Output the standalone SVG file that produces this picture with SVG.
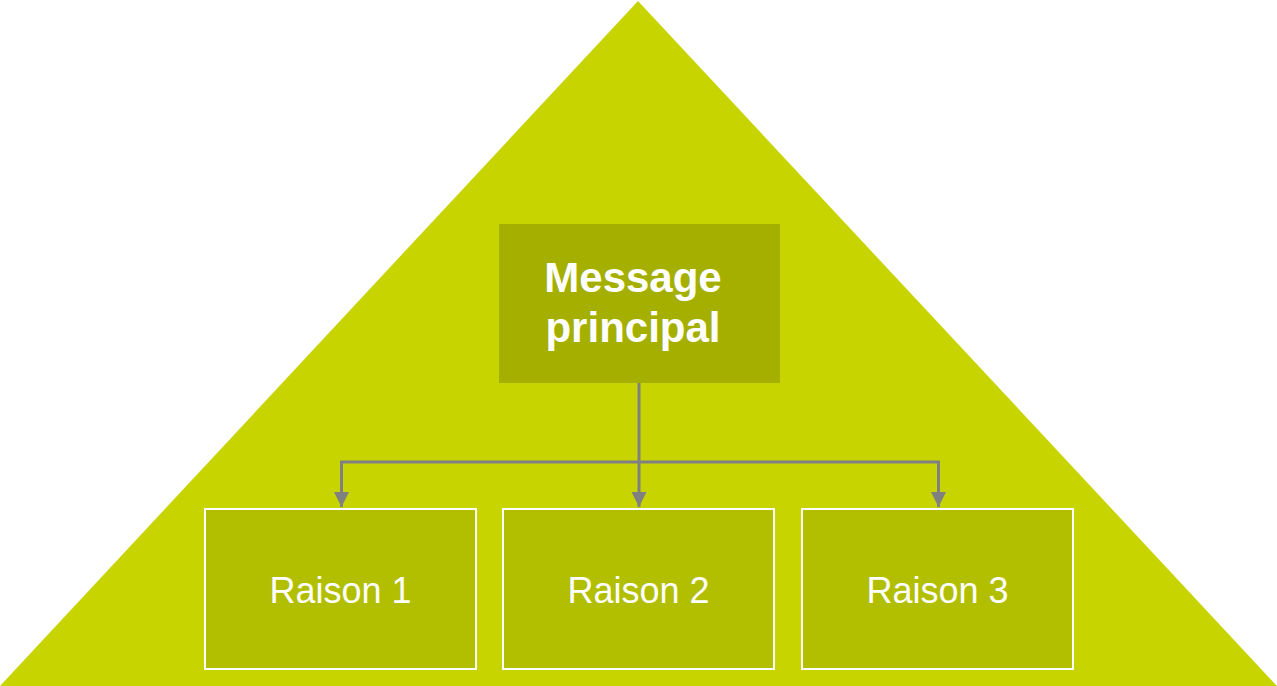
<svg xmlns="http://www.w3.org/2000/svg" width="1277" height="686" viewBox="0 0 1277 686">
<style>
.reason rect{fill:#B2BE00;stroke:#FFFFFF;stroke-width:2}
.reason text{font-family:"Liberation Sans",Arial,sans-serif;font-size:36px;fill:#FFFFFF;text-anchor:middle}
.main text{font-family:"Liberation Sans",Arial,sans-serif;font-size:42px;font-weight:bold;fill:#FFFFFF;text-anchor:middle}
.conn{fill:none;stroke:#808080;stroke-width:3}
</style>
<defs>
<marker id="arr" markerWidth="5" markerHeight="5" refX="5" refY="2.5" orient="auto" markerUnits="strokeWidth">
<path d="M0,0 L5,2.5 L0,5 Z" fill="#808080"/>
</marker>
</defs>
<rect width="1277" height="686" fill="#FFFFFF"/>
<polygon id="pyramid" points="638,1 1277,686 0,686" fill="#C8D400"/>
<g id="connectors">
<line class="conn" x1="639" y1="383" x2="639" y2="462"/>
<polyline class="conn" points="341.5,498 341.5,462 938.5,462 938.5,498"/>
<line class="conn" x1="341.5" y1="470" x2="341.5" y2="507" marker-end="url(#arr)"/>
<line class="conn" x1="639" y1="462" x2="639" y2="507" marker-end="url(#arr)"/>
<line class="conn" x1="938.5" y1="470" x2="938.5" y2="507" marker-end="url(#arr)"/>
</g>
<g id="main" class="main">
<rect x="499" y="224" width="281" height="159" fill="#A5AF00"/>
<text x="633" y="292">Message</text>
<text x="633" y="342">principal</text>
</g>
<g id="reason1" class="reason">
<rect x="205" y="509" width="271" height="160"/>
<text x="340.5" y="603">Raison 1</text>
</g>
<g id="reason2" class="reason">
<rect x="503" y="509" width="271" height="160"/>
<text x="638.5" y="603">Raison 2</text>
</g>
<g id="reason3" class="reason">
<rect x="802" y="509" width="271" height="160"/>
<text x="937.5" y="603">Raison 3</text>
</g>
</svg>
